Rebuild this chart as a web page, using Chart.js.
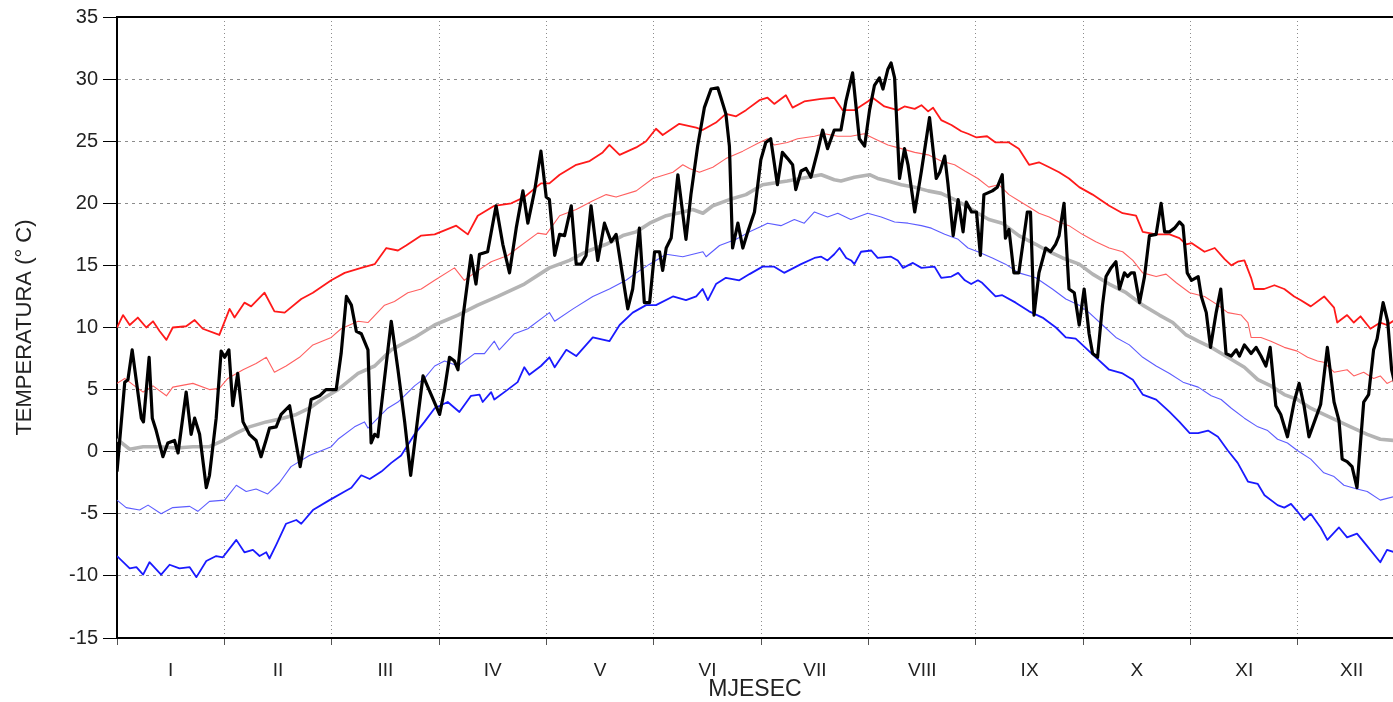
<!DOCTYPE html>
<html>
<head>
<meta charset="utf-8">
<title>Temperatura</title>
<script src="https://cdn.jsdelivr.net/npm/chart.js@4.4.1/dist/chart.umd.min.js"></script>
<style>
  html, body { margin: 0; padding: 0; background: #fff; overflow: hidden; }
  #tempChart { display: block; }
</style>
</head>
<body>
<canvas id="tempChart" width="1393" height="702"></canvas>
<script>
// month labels on the x axis
const months = ['I', 'II', 'III', 'IV', 'V', 'VI', 'VII', 'VIII', 'IX', 'X', 'XI', 'XII'];
const yMin = -15;
const yMax = 35;
const yStep = 5;

// absolute max (thick red)
const maxAbsDays = [0, 1.7, 3.6, 5.9, 8.3, 10.2, 12.1, 14, 15.8, 19.6,
  22, 24.3, 29, 31.9, 33.3, 36.1, 38, 41.8, 44.6, 47.5,
  52.2, 55.5, 60.7, 64.5, 69.2, 73, 76.3, 79.6, 81.9, 86.2,
  90, 96.1, 99.4, 102.2, 106.9, 111.7, 115.4, 120.1, 122.5, 125.4,
  130.1, 133.9, 137.6, 139.5, 142.4, 147.1, 149.9, 152.7, 154.6, 159.3,
  164.1, 165.9, 169.7, 172.5, 175.4, 178.2, 182, 184.3, 186.2, 189.5,
  191.4, 194.7, 199.5, 203.2, 205.6, 208.9, 212.7, 214.1, 217.4, 221.2,
  223.1, 226, 227.9, 229.8, 231.2, 233.5, 236.4, 239.2, 241.1, 243.5,
  246.5, 248.9, 252.7, 255.5, 258.4, 261.2, 264.1, 266.9, 269.7, 272.6,
  276.4, 281.1, 284.9, 288.7, 290.6, 294.4, 298.2, 301, 302.9, 304.4,
  308.1, 311, 313.8, 315.7, 317.5, 319.4, 321.3, 322.2, 325, 327.9,
  330.7, 333.5, 335.4, 338.2, 342, 344.8, 345.7, 348.5, 350.4, 352.3,
  355.1, 357.9, 359.8, 362];
const maxAbs = [10.0, 11.0, 10.2, 10.8, 10.0, 10.5, 9.7, 9.0, 10.0, 10.1,
  10.6, 9.9, 9.4, 11.5, 10.8, 12.0, 11.7, 12.8, 11.3, 11.2,
  12.3, 12.8, 13.8, 14.4, 14.8, 15.1, 16.4, 16.2, 16.6, 17.4,
  17.5, 18.2, 17.5, 19.0, 19.8, 20.0, 20.5, 21.6, 21.6, 22.3,
  23.1, 23.4, 24.1, 24.7, 23.9, 24.5, 25.0, 26.0, 25.5, 26.4,
  26.1, 25.9, 26.5, 27.2, 27.0, 27.5, 28.3, 28.5, 28.0, 28.7,
  27.7, 28.2, 28.4, 28.5, 27.5, 27.5, 28.2, 28.5, 27.8, 27.5,
  27.8, 27.6, 27.9, 27.4, 27.7, 26.7, 26.3, 25.8, 25.6, 25.3,
  25.4, 24.9, 24.9, 24.4, 23.1, 23.3, 22.9, 22.5, 22.0, 21.3,
  20.7, 19.8, 19.2, 19.0, 17.7, 17.5, 17.5, 17.2, 16.7, 16.8,
  16.1, 16.4, 15.5, 15.0, 15.3, 15.4, 14.0, 13.1, 13.1, 13.4,
  13.1, 12.5, 12.2, 11.7, 12.5, 11.6, 10.4, 11.0, 10.4, 10.9,
  9.9, 10.4, 10.2, 10.6];

// mean + std (thin red)
const maxStdDays = [0, 2.2, 4.5, 7.4, 10.2, 14, 15.8, 21.5, 26.2, 29, 31.4, 35.7, 39.4, 42.3, 44.6, 47.9, 51.7, 55.5, 60.7,
  63.5, 68.3, 71.1, 75.8, 78.6, 82.4, 86.2, 90, 95.6, 98.4, 101.3, 106, 110.7, 113.5, 119.2,
  121.6, 125.4, 130.1, 134.8, 138.6, 141.4, 147.1, 151.8, 157.5, 160.3, 162.2, 165, 168.8, 172.5, 177.3, 182,
  184.3, 186.2, 189.9, 192.8, 197.6, 200.4, 204.2, 207.9, 211.7, 214.6, 218.4, 222.2, 226, 229.8, 233.5, 237.3, 240.2, 243.9,
  247, 249.8, 252.7, 255.5, 258.4, 261.2, 264.1, 266.9, 269.7, 273.5, 277.3, 281.1, 284.9, 287.8, 290.6, 294.4, 297.2, 300.1, 303.9,
  308.1, 311.9, 314.7, 318.5, 320.4, 321.3, 324.1, 326.9, 330.7, 334.4, 337.3, 340.1, 341.9, 344.8, 348.5, 350.4, 353.2, 356, 357.9, 359.8, 362];
const maxStd = [5.5, 5.9, 5.4, 4.8, 5.3, 4.5, 5.2, 5.5, 5.0, 5.1, 5.9, 6.6, 7.1, 7.6, 6.4, 6.9, 7.6, 8.6, 9.2,
  9.9, 10.5, 10.4, 11.8, 12.1, 12.8, 13.1, 13.8, 14.8, 13.8, 14.4, 15.3, 15.8, 16.4, 17.6,
  17.5, 19.0, 19.5, 20.2, 20.7, 20.5, 21.0, 22.0, 22.5, 23.1, 22.8, 22.5, 22.9, 23.6, 24.2, 24.9,
  25.2, 24.7, 24.9, 25.2, 25.4, 25.6, 25.4, 25.4, 25.6, 25.2, 24.7, 24.4, 24.1, 23.9, 23.4, 23.1, 22.6, 22.0,
  21.3, 21.5, 20.7, 20.2, 19.7, 19.2, 18.9, 18.5, 18.2, 17.5, 16.9, 16.4, 16.1, 15.4, 14.4, 14.1, 14.3, 13.6, 12.8,
  12.5, 11.8, 11.2, 11.0, 10.4, 9.2, 9.2, 8.9, 8.4, 8.1, 7.6, 7.3, 7.2, 6.4, 6.6, 6.1, 6.4, 5.9, 6.1, 5.5, 5.8];

// mean (gray)
const meanDays = [0, 3.6, 7.4, 12.1, 16.8, 21.5, 26.2, 30, 33.8, 37.5, 42.3, 47, 50.8, 54.5, 58.5,
  62.6, 68.3, 73, 77.7, 84.3, 90, 96.6, 102.2, 107.9, 115.4,
  122.5, 128.2, 132.9, 138.6, 143.3, 147.1, 150.9, 155.6, 160.3, 163.1, 166, 168.8, 173.5, 178.2, 182.9,
  189.9, 195.7, 199.5, 203.2, 205.1, 208.9, 213.2, 215.5, 218.4, 222.2, 226, 229.8, 233.5, 237.3, 241.1, 243.9,
  247, 250.8, 255.5, 260.3, 264.1, 267.9, 272.6, 276.4, 281.1, 285.9, 290.6, 295.3, 299.1, 302.9,
  306.3, 310, 314.7, 319.4, 323.2, 326.9, 330.7, 334.4, 338.2, 341.9, 345.7, 349.5, 354.2, 357.9, 362];
const mean = [1.0, 0.2, 0.4, 0.4, 0.3, 0.4, 0.4, 0.9, 1.5, 2.0, 2.4, 2.7, 3.0, 3.5, 4.3,
  5.0, 6.3, 6.9, 8.2, 9.2, 10.2, 11.0, 11.8, 12.5, 13.5,
  14.8, 15.4, 16.1, 16.7, 17.4, 17.7, 18.4, 19.0, 19.3, 19.5, 19.2, 19.8, 20.3, 20.7, 21.5,
  21.8, 22.1, 22.3, 21.9, 21.8, 22.1, 22.3, 22.0, 21.8, 21.5, 21.3, 21.0, 20.8, 20.3, 19.7, 19.2,
  18.7, 18.4, 17.4, 16.7, 16.1, 15.6, 15.1, 14.3, 13.5, 12.8, 11.8, 11.0, 10.4, 9.4,
  8.9, 8.4, 7.6, 6.8, 5.8, 5.3, 4.6, 4.2, 3.5, 3.0, 2.5, 2.0, 1.4, 1.0, 0.9];

// mean - std (thin blue)
const minStdDays = [0, 2.6, 6.4, 8.8, 12.5, 15.8, 20.6, 22.9, 26.2, 30.5, 33.8, 36.6, 39.4, 42.7, 46, 49.3, 54.5, 60.7,
  62.6, 67.3, 70.1, 71.1, 76.7, 79.6, 84.3, 87.1, 90, 92.8, 96.6, 101.3, 104.1, 106.9, 108.3, 112.6, 116.4,
  122.5, 124, 129.2, 134.8, 139.5, 144.2, 147.1, 150.9, 155.6, 160.3, 166, 166.9, 170.7, 175.4, 179.2, 182.9,
  184.3, 188.1, 191.9, 194.7, 197.6, 201.3, 204.2, 207.9, 212.7, 216.5, 220.3, 224.1, 227.9, 230.7, 234.5, 238.3, 241.1, 243.9,
  248, 251.7, 255.5, 260.3, 265, 268.8, 272.6, 275.4, 279.2, 283, 286.8, 290.6, 294.4, 298.2, 302,
  306.3, 310, 312.8, 315.7, 319.4, 323.2, 326, 328.8, 331.6, 334.4, 338.2, 341.9, 344.8, 347.6, 351.3, 354.2, 357.9, 362];
const minStd = [-3.9, -4.5, -4.7, -4.3, -5.0, -4.5, -4.4, -4.8, -4.0, -3.9, -2.7, -3.2, -3.0, -3.4, -2.5, -1.2, -0.3, 0.4,
  1.0, 2.0, 2.4, 1.9, 3.5, 4.0, 5.3, 5.9, 6.9, 7.3, 6.9, 7.9, 7.9, 8.9, 8.2, 9.5, 9.9,
  11.2, 10.5, 11.5, 12.5, 13.1, 13.8, 14.4, 15.1, 15.9, 15.7, 16.1, 15.7, 16.6, 17.1, 17.7, 18.2,
  18.4, 18.2, 18.7, 18.4, 19.3, 18.9, 19.2, 18.7, 19.2, 18.9, 18.5, 18.4, 18.2, 18.0, 17.5, 17.1, 16.4, 16.1,
  15.6, 15.1, 14.4, 14.0, 13.1, 12.3, 11.8, 11.2, 10.2, 9.2, 8.6, 7.6, 6.9, 6.3, 5.6,
  5.2, 4.5, 4.2, 3.5, 2.7, 2.0, 1.7, 1.0, 0.7, 0.1, -0.6, -1.7, -2.0, -2.7, -3.0, -3.2, -3.9, -3.6];

// absolute min (thick blue)
const minAbsDays = [0, 3.6, 5.5, 7.4, 9.2, 12.5, 14.9, 17.7, 20.6, 22.5, 25.3, 28.1, 30, 33.8, 36.1, 38.5, 40.4, 42.3, 43.2, 45.1, 47.9, 50.8, 52.2, 55.5, 60.2,
  64.5, 66.4, 69.2, 71.6, 74.9, 77.7, 80.5, 84.3, 87.1, 90, 93.7, 97, 100.3, 102.7, 103.6, 106, 106.9, 110.7, 113.5, 115.4, 116.8, 120.1,
  122.5, 124, 127.3, 130.1, 134.8, 139.5, 142.4, 146.1, 149.9, 152.7, 157.5, 161.2, 164.1, 165.9, 167.4, 169.7, 172.5, 176.3, 179.2, 182.9,
  186.2, 189, 193.8, 197.6, 199.5, 201.3, 203.2, 204.7, 206.6, 208, 208.9, 210.8, 213.7, 215.5, 219.3, 221.2, 222.7, 225.5, 227.9, 231.6, 233.5, 236.4, 238.3, 240.2, 242, 243.9,
  245.1, 248.9, 250.8, 254.6, 258.4, 262.2, 266, 268.8, 271.6, 273.5, 277.3, 281.1, 284.9, 287.8, 290.6, 294.4, 298.2, 301, 303.9,
  306.3, 309.1, 311.9, 314.7, 317.5, 320.4, 323.2, 325.1, 328.8, 330.7, 332.6, 334.4, 336.3, 338.2, 341, 342.9, 346.2, 348.5, 351.3, 354.2, 357.9, 359.8, 362];
const minAbs = [-8.4, -9.4, -9.3, -9.9, -8.9, -9.9, -9.1, -9.4, -9.3, -10.1, -8.8, -8.4, -8.5, -7.1, -8.1, -7.9, -8.4, -8.1, -8.6, -7.5, -5.8, -5.5, -5.8, -4.7, -3.9,
  -3.2, -2.9, -1.9, -2.2, -1.6, -0.9, -0.3, 1.4, 2.4, 3.5, 4.0, 3.2, 4.5, 4.6, 4.0, 4.8, 4.2, 5.0, 5.6, 6.8, 6.2, 6.9,
  7.6, 6.8, 8.2, 7.7, 9.2, 8.9, 10.2, 11.2, 11.8, 11.8, 12.5, 12.2, 12.5, 13.1, 12.2, 13.5, 14.0, 13.8, 14.3, 14.9,
  14.9, 14.4, 15.1, 15.6, 15.7, 15.4, 15.9, 16.4, 15.6, 15.4, 15.1, 16.1, 16.2, 15.6, 15.7, 15.4, 14.8, 15.2, 14.8, 14.9, 14.0, 14.1, 14.4, 13.8, 13.5, 13.8,
  13.6, 12.5, 12.6, 12.0, 11.3, 10.8, 10.0, 9.2, 9.1, 8.6, 7.6, 6.6, 6.3, 5.8, 4.6, 4.2, 3.2, 2.4, 1.5,
  1.5, 1.7, 1.2, 0.1, -0.9, -2.4, -2.6, -3.5, -4.3, -4.5, -4.2, -4.8, -5.5, -5.0, -6.1, -7.1, -6.1, -6.9, -6.6, -7.6, -8.9, -7.9, -8.1];

// daily values of the year (black)
const dailyDays = [0, 2.2, 3.1, 4.3, 6.9, 7.5, 9.1, 10, 11.1, 13, 14.4, 16.3, 17.3, 19.6, 21, 22, 23.4, 25.3, 26.2, 28.1,
  29.5, 30.5, 31.7, 32.8, 34.2, 35.7, 37.5, 39.4, 40.8, 42.3, 43.2, 45.1, 46.5, 48.9, 51.9, 55, 57.4, 59.2,
  62.1, 63.5, 65, 66.4, 67.8, 69.2, 71.1, 72, 73, 73.9, 75.8, 77.7, 79.6, 81.5, 83.2, 85.2, 86.7, 89, 91.4,
  92.8, 94.2, 95.6, 96.6, 98, 100.3, 101.7, 102.7, 105, 107.4, 109.3, 111.2, 113.1, 115, 116.4, 118.3, 120.1, 121.6,
  122.5, 124, 125.4, 126.8, 128.7, 130.1, 131.5, 132.9, 134.3, 136.2, 138.1, 140, 141.4, 144.7, 146.1, 148, 149.4, 150.9, 152.3, 153.7,
  154.6, 155.6, 157, 158.9, 161.2, 162.6, 164.5, 166.4, 168.3, 170.2, 171.1, 172.5, 173.5, 174.4, 175.9, 177.3, 178.7, 180.6, 182.4,
  183.8, 185.2, 187.1, 188.5, 190, 191.4, 192.3, 193.8, 195.2, 196.6, 198.5, 199.9, 201.3, 203.2, 205.1, 206.5, 208.4, 210.3, 211.8, 213.2, 214.6,
  216, 217, 218.4, 219.3, 220.3, 221.7, 223.1, 224.1, 226, 227.9, 230.2, 232.1, 233.1, 234.5, 235.4, 236.9, 238.3, 239.7, 240.6, 242.1, 243.5, 244.6,
  245.6, 248, 249.4, 250.8, 251.7, 252.7, 254.1, 255.5, 257.9, 258.8, 259.8, 261.2, 263.1, 264.5, 265.9, 266.9, 268.3, 269.7, 271.2, 272.6, 274,
  275.4, 276.4, 277.8, 279.2, 280.2, 281.6, 283, 284, 285.4, 286.3, 287.3, 288.2, 289.7, 291.1, 292.5, 294.4, 295.8, 296.8, 298.2, 299.6, 301, 302,
  303.2, 304.4, 306.3, 307.2, 308.6, 309.8, 311.4, 312.7, 314.2, 315.7, 317.1, 318, 319.4, 321.3, 322.7, 324.1, 325.5, 326.7, 328.3, 329.7, 331.6,
  333.5, 334.9, 336.3, 337.7, 339.6, 341, 342.9, 344.8, 346.2, 347.1, 348.5, 349.9, 351.3, 353.2, 354.6, 356, 357, 358.7, 360, 361.1, 362];
const daily = [-1.6, 5.6, 5.8, 8.2, 2.7, 2.4, 7.6, 2.7, 1.7, -0.4, 0.7, 0.9, -0.1, 4.8, 1.4, 2.7, 1.4, -2.9, -1.9, 2.7,
  8.1, 7.6, 8.2, 3.7, 6.3, 2.4, 1.4, 0.9, -0.4, 1.0, 1.9, 2.0, 3.0, 3.7, -1.2, 4.2, 4.5, 5.0,
  5.0, 7.9, 12.5, 11.8, 9.7, 9.5, 8.2, 0.7, 1.4, 1.2, 5.9, 10.5, 6.6, 2.4, -1.9, 2.7, 6.1, 4.6, 3.0,
  5.0, 7.6, 7.3, 6.6, 10.8, 15.8, 13.5, 15.9, 16.1, 19.8, 16.7, 14.4, 18.0, 21.0, 18.4, 21.0, 24.2, 20.5,
  20.3, 15.8, 17.5, 17.4, 19.8, 15.1, 15.1, 15.8, 19.8, 15.4, 18.4, 16.9, 17.5, 11.5, 13.1, 18.0, 12.0, 12.0, 16.1, 16.1,
  14.6, 16.4, 17.2, 22.3, 17.1, 20.7, 24.6, 27.7, 29.2, 29.3, 28.5, 27.2, 24.6, 16.4, 18.4, 16.4, 17.7, 19.3, 23.5,
  24.9, 25.2, 21.5, 24.1, 23.6, 23.1, 21.1, 22.6, 22.8, 22.1, 24.2, 25.9, 24.4, 25.9, 25.9, 28.2, 30.5, 25.2, 24.6, 27.5, 29.5,
  30.1, 29.2, 30.8, 31.3, 30.1, 22.0, 24.4, 23.1, 19.3, 22.6, 26.9, 22.0, 22.5, 23.8, 21.6, 17.4, 20.3, 17.7, 20.1, 19.3, 19.3, 15.8,
  20.7, 21.0, 21.3, 22.3, 17.2, 17.9, 14.4, 14.4, 19.3, 19.3, 11.0, 14.4, 16.4, 16.1, 16.7, 17.4, 20.0, 13.1, 12.8, 10.2, 13.1,
  9.5, 7.9, 7.6, 11.8, 14.1, 14.8, 15.3, 13.1, 14.4, 14.1, 14.4, 14.4, 12.0, 14.1, 17.4, 17.5, 20.0, 17.7, 17.7, 18.0, 18.5, 18.2,
  14.4, 13.8, 14.1, 12.5, 11.2, 8.4, 11.2, 13.1, 7.9, 7.7, 8.2, 7.7, 8.6, 7.9, 8.4, 7.7, 6.9, 8.4, 3.7, 3.0, 1.2,
  4.0, 5.5, 3.7, 1.2, 2.7, 3.8, 8.4, 4.0, 2.5, -0.6, -0.8, -1.2, -2.9, 4.0, 4.6, 8.2, 9.1, 12.0, 10.5, 6.6, 5.5];

const yearDays = 365;
const lastDay = 361.5;   // the picture is cut just before the end of December
const textFont = "'Liberation Sans', Arial, sans-serif";

function toPoints(days, temps) {
  return days.map((d, i) => ({ x: d, y: temps[i] }));
}

function lineSet(label, days, temps, color, width) {
  return {
    label: label,
    data: toPoints(days, temps),
    borderColor: color,
    borderWidth: width,
    pointRadius: 0,
    fill: false,
    tension: 0,
    borderJoinStyle: 'round'
  };
}

// black frame line along the top of the plot
const topFrame = {
  id: 'topFrame',
  beforeDatasetsDraw(chart) {
    const { ctx, chartArea } = chart;
    ctx.save();
    ctx.strokeStyle = '#000';
    ctx.lineWidth = 2;
    ctx.beginPath();
    ctx.moveTo(chartArea.left, chartArea.top);
    ctx.lineTo(chartArea.right, chartArea.top);
    ctx.stroke();
    ctx.restore();
  }
};

new Chart(document.getElementById('tempChart'), {
  type: 'line',
  data: {
    datasets: [
      lineSet('dnevna', dailyDays, daily, '#000000', 3.2),
      lineSet('apsolutni max', maxAbsDays, maxAbs, '#ff1a1a', 1.8),
      lineSet('prosjek + sd', maxStdDays, maxStd, '#ff6060', 1.1),
      lineSet('prosjek - sd', minStdDays, minStd, '#5c5cff', 1.1),
      lineSet('apsolutni min', minAbsDays, minAbs, '#1a1aff', 1.8),
      lineSet('prosjek', meanDays, mean, '#b4b4b4', 3.6)
    ]
  },
  options: {
    responsive: false,
    animation: false,
    events: [],
    layout: { padding: { top: 15, right: 0, bottom: 0, left: 0 } },
    plugins: {
      legend: { display: false },
      tooltip: { enabled: false }
    },
    scales: {
      x: {
        type: 'linear',
        min: 0,
        max: lastDay,
        afterBuildTicks: scale => {
          // every half month: even = month border, odd = month centre (label)
          const ticks = [];
          for (let i = 0; i < 24; i++) ticks.push({ value: i * yearDays / 24 });
          scale.ticks = ticks;
        },
        afterFit: scale => { scale.height = 64; },
        ticks: {
          autoSkip: false,
          maxRotation: 0,
          padding: 14,
          color: '#222',
          font: { family: textFont, size: 19 },
          callback: (value, index) => index % 2 === 1 ? months[(index - 1) / 2] : ''
        },
        grid: {
          color: c => c.index % 2 === 0 ? '#8c8c8c' : 'rgba(0,0,0,0)',
          tickColor: c => c.index % 2 === 0 ? '#555' : 'rgba(0,0,0,0)',
          tickLength: 7,
          lineWidth: 1
        },
        border: { color: '#000', width: 2, dash: [1, 3] },
        title: {
          display: true,
          text: 'MJESEC',
          color: '#222',
          font: { family: textFont, size: 23, lineHeight: 1 },
          padding: { top: 0, bottom: 1 }
        }
      },
      y: {
        min: yMin,
        max: yMax,
        afterFit: scale => { scale.width = 117; },
        ticks: {
          stepSize: yStep,
          padding: 5,
          color: '#222',
          font: { family: textFont, size: 20 }
        },
        grid: {
          color: '#8c8c8c',
          tickColor: '#000',
          tickLength: 14,
          lineWidth: 1
        },
        border: { color: '#000', width: 2, dash: [3, 4] },
        title: {
          display: true,
          text: 'TEMPERATURA (° C)',
          color: '#222',
          font: { family: textFont, size: 22, lineHeight: 1 },
          padding: { top: 14, bottom: 0 }
        }
      }
    }
  },
  plugins: [topFrame]
});
</script>
</body>
</html>
